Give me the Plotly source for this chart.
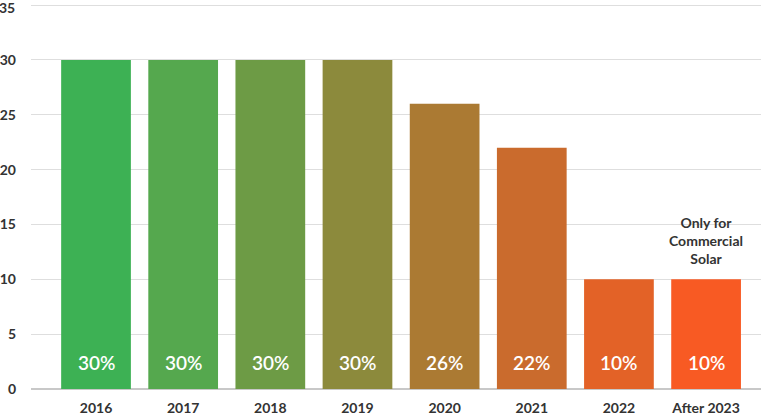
import plotly.graph_objects as go

categories = ["2016", "2017", "2018", "2019", "2020", "2021", "2022", "After 2023"]
values = [30, 30, 30, 30, 26, 22, 10, 10]
labels = ["30%", "30%", "30%", "30%", "26%", "22%", "10%", "10%"]
colors = ["#3db154", "#55a84e", "#6d9b45", "#8c8a3c", "#ab7a33", "#ca6b2d", "#e36227", "#f85a23"]
y_ticks = [0, 5, 10, 15, 20, 25, 30, 35]
note = "Only for<br>Commercial<br>Solar"

tick_font = dict(family="Lato", size=14, color="#333333", weight=700)

fig = go.Figure()
fig.add_trace(go.Bar(
    x=categories, y=values, marker=dict(color=colors, line=dict(width=0)),
    width=0.8, hoverinfo="skip",
))
for i, lab in enumerate(labels):
    fig.add_annotation(x=i, y=2.45, text=lab, showarrow=False,
                       font=dict(family="Lato", size=19, color="white", weight=600))
fig.add_annotation(x=len(categories) - 1, y=values[-1], yshift=10, text=note, showarrow=False,
                   yanchor="bottom", align="center",
                   font=dict(family="Lato", size=14, color="#333333", weight=700))
# top tick label (Plotly hides it because it overflows the figure edge)
fig.add_annotation(xref="paper", x=0, xshift=-14, xanchor="right", y=y_ticks[-1],
                   yanchor="top", yshift=8, text=str(y_ticks[-1]), showarrow=False, font=tick_font)

fig.update_layout(
    width=761, height=415,
    margin=dict(l=31, r=0, t=1, b=26),
    plot_bgcolor="white", paper_bgcolor="white",
    showlegend=False,
    font=dict(family="Lato", color="#333333"),
    xaxis=dict(type="category", range=[-0.746, 7.63], showgrid=False, showline=False, ticks="",
               ticklabelstandoff=9, automargin=False, tickfont=tick_font),
    yaxis=dict(range=[0, 35.37], tickvals=y_ticks, automargin=False,
               showgrid=True, gridcolor="#dedede", gridwidth=1,
               zeroline=True, zerolinecolor="#c8c8c8", zerolinewidth=1.5,
               ticks="", ticklabelstandoff=14, tickfont=tick_font),
)
fig.write_html("out.html", config={"displayModeBar": False},
               post_script="document.body.style.margin='0';")
